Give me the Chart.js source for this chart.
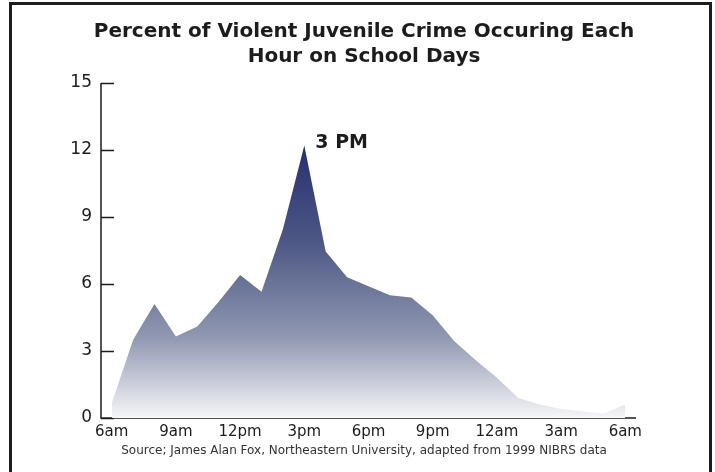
<!DOCTYPE html>
<html>
<head>
<meta charset="utf-8">
<script src="https://cdn.jsdelivr.net/npm/chart.js@4"></script>
<style>
  html, body { margin: 0; padding: 0; background: #fff; overflow: hidden; }
  #wrap { position: relative; width: 715px; height: 472px; }
  #frame {
    position: absolute; left: 9px; top: 2px; width: 697px; height: 480px;
    border: 3px solid #1c1c1c; border-bottom: none; pointer-events: none;
  }
</style>
</head>
<body>
<div id="wrap">
  <canvas id="crimeChart" width="715" height="472"></canvas>
  <div id="frame"></div>
</div>
<script>
// --- DATA ---
const hours = ['6am', '7am', '8am', '9am', '10am', '11am', '12pm', '1pm', '2pm', '3pm', '4pm', '5pm',
               '6pm', '7pm', '8pm', '9pm', '10pm', '11pm', '12am', '1am', '2am', '3am', '4am', '5am', '6am'];
const percentCrime = [0.65, 3.5, 5.1, 3.65, 4.1, 5.2, 6.4, 5.65, 8.45, 12.2, 7.45, 6.3,
                      5.9, 5.5, 5.4, 4.6, 3.45, 2.6, 1.8, 0.9, 0.6, 0.4, 0.3, 0.2, 0.6];
const yTicks = [0, 3, 6, 9, 12, 15];
const labelEvery = 3;
const peakLabel = '3 PM';
const titleLines = ['Percent of Violent Juvenile Crime Occuring Each', 'Hour on School Days'];
const sourceText = 'Source; James Alan Fox, Northeastern University, adapted from 1999 NIBRS data';

const FONT = "'DejaVu Sans', Verdana, sans-serif";
const INK = '#1c1c1c';

// axis lines + inward ticks, drawn under the area like the original
const axesPlugin = {
    id: 'axesPlugin',
    beforeDatasetsDraw(chart) {
        const { ctx, chartArea, scales } = chart;
        const x = scales.x, y = scales.y;
        ctx.save();
        ctx.strokeStyle = INK;
        ctx.lineWidth = 1.5;
        ctx.beginPath();
        ctx.moveTo(chartArea.left, chartArea.top);
        ctx.lineTo(chartArea.left, chartArea.bottom);
        ctx.lineTo(chartArea.right, chartArea.bottom);
        yTicks.forEach(v => {
            const py = Math.round(y.getPixelForValue(v)) + 0.5;
            ctx.moveTo(chartArea.left, py);
            ctx.lineTo(chartArea.left + 13, py);
        });
        ctx.stroke();
        ctx.lineWidth = 1;
        ctx.beginPath();
        for (let i = 0; i < hours.length - 1; i++) {
            const px = Math.round((x.getPixelForValue(i) + x.getPixelForValue(i + 1)) / 2) + 0.5;
            ctx.moveTo(px, chartArea.bottom);
            ctx.lineTo(px, chartArea.bottom - 4);
        }
        ctx.stroke();
        ctx.restore();
    },
    afterDatasetsDraw(chart) {
        const { ctx } = chart;
        const idx = percentCrime.indexOf(Math.max(...percentCrime));
        const pt = chart.getDatasetMeta(0).data[idx];
        ctx.save();
        ctx.fillStyle = INK;
        ctx.font = 'bold 19px ' + FONT;
        ctx.textBaseline = 'middle';
        ctx.fillText(peakLabel, pt.x + 11, pt.y - 2);
        ctx.restore();
    }
};

function areaGradient(context) {
    const { chart } = context;
    const { ctx, chartArea, scales } = chart;
    if (!chartArea) return '#6f7a9a';
    const top = scales.y.getPixelForValue(Math.max(...percentCrime));
    const g = ctx.createLinearGradient(0, top, 0, chartArea.bottom);
    g.addColorStop(0, '#273070');
    g.addColorStop(0.35, '#4c5784');
    g.addColorStop(0.7, '#8f97b1');
    g.addColorStop(1, '#f6f6f8');
    return g;
}

const chart = new Chart(document.getElementById('crimeChart'), {
    type: 'line',
    data: {
        labels: hours,
        datasets: [{
            data: percentCrime,
            fill: 'origin',
            backgroundColor: areaGradient,
            borderWidth: 0,
            pointRadius: 0,
            tension: 0
        }]
    },
    options: {
        responsive: false,
        animation: false,
        events: [],
        layout: { padding: { left: 13, right: 0, top: 0, bottom: 13.8 } },
        plugins: {
            legend: { display: false },
            tooltip: { enabled: false },
            title: {
                display: true,
                text: titleLines,
                color: INK,
                font: { family: FONT, size: 20, weight: 'bold', lineHeight: 1.25 },
                padding: { top: 19.5, bottom: 13.5 }
            },
            subtitle: {
                display: true,
                position: 'bottom',
                text: sourceText,
                color: '#333',
                font: { family: FONT, size: 12, lineHeight: 1.2 },
                padding: { top: 0, bottom: 0 }
            }
        },
        scales: {
            x: {
                type: 'category',
                offset: true,
                grid: { display: false, drawTicks: false, offset: true },
                border: { display: false },
                afterFit(scale) { scale.height = 25.8; },
                ticks: {
                    autoSkip: false,
                    maxRotation: 0,
                    padding: 5,
                    color: INK,
                    font: { family: FONT, size: 15 },
                    callback: (val, idx) => idx % labelEvery === 0 ? hours[idx] : ''
                }
            },
            y: {
                min: 0,
                max: 15,
                afterFit(scale) { scale.width = 88; },
                afterBuildTicks(scale) { scale.ticks = yTicks.map(v => ({ value: v })); },
                grid: { display: false, drawTicks: false },
                border: { display: false },
                ticks: {
                    padding: 9,
                    color: INK,
                    font: { family: FONT, size: 17 }
                }
            },
            // empty right-hand axis that just holds the margin beside the plot
            yRight: {
                position: 'right',
                min: 0,
                max: 15,
                afterFit(scale) { scale.width = 79; },
                grid: { display: false, drawTicks: false },
                border: { display: false },
                ticks: { display: false }
            }
        }
    },
    plugins: [axesPlugin]
});
</script>
</body>
</html>
